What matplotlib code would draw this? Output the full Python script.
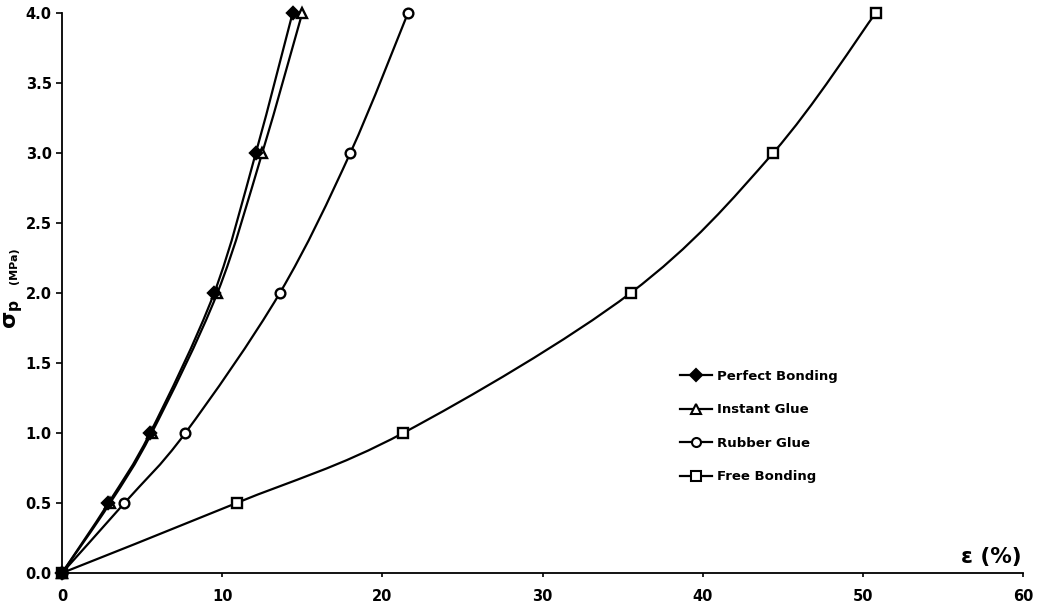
import numpy as np
import matplotlib
matplotlib.use("Agg")
import matplotlib.pyplot as plt
from matplotlib.path import Path
from matplotlib.patches import PathPatch

# Applied pressure (MPa) against strain (%) for four bonding conditions
stress = [0.0, 0.5, 1.0, 2.0, 3.0, 4.0]
strain_perfect = [0.0, 2.9, 5.5, 9.5, 12.1, 14.4]
strain_instant = [0.0, 3.0, 5.6, 9.7, 12.5, 15.0]
strain_rubber = [0.0, 3.9, 7.7, 13.6, 18.0, 21.6]
strain_free = [0.0, 10.9, 21.3, 35.5, 44.4, 50.8]

labels = ["Perfect Bonding", "Instant Glue", "Rubber Glue", "Free Bonding"]
series = [strain_perfect, strain_instant, strain_rubber, strain_free]
markers = ["D", "^", "o", "s"]
faces = ["black", "white", "white", "white"]
msizes = [6.5, 7.5, 7, 7]

x_ticks = [0, 10, 20, 30, 40, 50, 60]
y_ticks = [0.0, 0.5, 1.0, 1.5, 2.0, 2.5, 3.0, 3.5, 4.0]

plt.rcParams["font.family"] = ["DejaVu Sans"]
plt.rcParams["font.weight"] = "bold"
plt.rcParams["mathtext.fontset"] = "dejavusans"

W, H = 1049, 615
fig = plt.figure(figsize=(W / 100, H / 100), dpi=100)
x0, x1, y0, y1 = 62, 1023, 573, 13
ax = fig.add_axes([x0 / W, 1 - y0 / H, (x1 - x0) / W, (y0 - y1) / H])


def smooth_path(xs, ys):
    """Cubic Bezier path through the points (Catmull-Rom style tangents)."""
    pts = np.column_stack([xs, ys]).astype(float)
    n = len(pts)
    verts = [pts[0]]
    codes = [Path.MOVETO]
    for i in range(n - 1):
        p0 = pts[i - 1] if i > 0 else pts[i]
        p1 = pts[i]
        p2 = pts[i + 1]
        p3 = pts[i + 2] if i + 2 < n else pts[i + 1]
        c1 = p1 + (p2 - p0) / 6.0
        c2 = p2 - (p3 - p1) / 6.0
        verts += [c1, c2, p2]
        codes += [Path.CURVE4] * 3
    return Path(verts, codes)


n_series = len(series)
for k, (xs, lab, m, fc, ms) in enumerate(zip(series, labels, markers, faces, msizes)):
    patch = PathPatch(smooth_path(xs, stress), facecolor="none",
                      edgecolor="black", lw=1.6, zorder=2, clip_on=False)
    ax.add_patch(patch)
    ax.plot(xs, stress, linestyle="none", marker=m, markersize=ms,
            markerfacecolor=fc, markeredgecolor="black", markeredgewidth=1.7,
            zorder=3 + (n_series - k) * 0.1, clip_on=False)
    # legend proxy (line + marker)
    ax.plot([], [], color="black", lw=1.6, marker=m, markersize=ms - 0.5,
            markerfacecolor=fc, markeredgecolor="black",
            markeredgewidth=1.5, label=lab)

ax.set_xlim(0, 60)
ax.set_ylim(0, 4.0)
ax.set_xticks(x_ticks)
ax.set_yticks(y_ticks)
ax.set_yticklabels([f"{v:.1f}" for v in y_ticks])
ax.tick_params(axis="both", labelsize=10.5, width=1.2, colors="black")
ax.tick_params(axis="y", length=4, pad=3.5, direction="out")
ax.tick_params(axis="x", length=3, pad=8.5, direction="out")
for t in ax.get_xticklabels() + ax.get_yticklabels():
    t.set_fontweight("bold")

for s in ["top", "right"]:
    ax.spines[s].set_visible(False)
for s in ["left", "bottom"]:
    ax.spines[s].set_linewidth(1.3)
    ax.spines[s].set_color("black")

# axis titles
ax.text((1022 - x0) / (x1 - x0), (y0 - 563) / (y0 - y1), "ε (%)",
        transform=ax.transAxes, ha="right", va="baseline",
        fontsize=15.5, fontweight="bold")
fig.text(14 / W, 1 - 299 / H, r"$\mathbf{\sigma_p}$",
         rotation=90, ha="center", va="top", fontsize=16)
fig.text(14 / W, 1 - 284 / H, "(MPa)",
         rotation=90, ha="center", va="bottom", fontsize=8, fontweight="bold")

leg = ax.legend(loc="upper left", bbox_to_anchor=(680 / W, 1 - 370 / H),
                bbox_transform=fig.transFigure, frameon=False, fontsize=9.5,
                handlelength=2.4, handletextpad=0.4, labelspacing=1.55,
                borderpad=0, borderaxespad=0)
for t in leg.get_texts():
    t.set_fontweight("bold")

fig.savefig("out.png", dpi=100, facecolor="white")
